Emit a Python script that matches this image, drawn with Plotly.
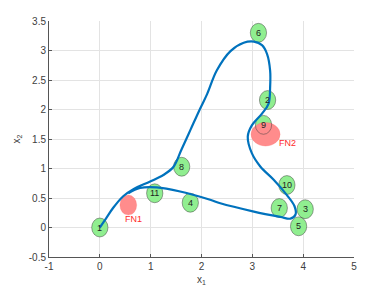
import plotly.graph_objects as go

# trajectory
path_x = [0.0, 0.12, 0.26, 0.46, 0.66, 0.99, 1.25, 1.45, 1.60, 1.78, 1.97, 2.11, 2.30, 2.57, 2.83, 3.03, 3.19, 3.29, 3.35, 3.35, 3.32, 3.19, 2.99, 2.91, 2.99, 3.16, 3.42, 3.68, 3.83, 3.85, 3.75, 3.55, 3.03, 2.37, 2.17, 1.58, 1.12, 0.79, 0.56]
path_y = [0.0, 0.15, 0.33, 0.53, 0.65, 0.78, 0.89, 1.03, 1.31, 1.65, 2.01, 2.26, 2.66, 2.99, 3.13, 3.15, 3.09, 2.94, 2.66, 2.38, 2.10, 1.93, 1.73, 1.54, 1.26, 1.03, 0.81, 0.55, 0.36, 0.22, 0.15, 0.18, 0.27, 0.41, 0.47, 0.61, 0.68, 0.67, 0.58]

# landmarks
lm_labels = ["1", "2", "3", "4", "5", "6", "7", "8", "9", "10", "11"]
lm_x = [0.0, 3.30, 4.04, 1.78, 3.91, 3.12, 3.53, 1.61, 3.22, 3.68, 1.08]
lm_y = [0.0, 2.16, 0.31, 0.42, 0.02, 3.30, 0.33, 1.03, 1.74, 0.72, 0.58]
lm_r = 0.16

# false landmarks (center, semi-axes)
fn_labels = ["FN1", "FN2"]
fn_x = [0.56, 3.26]
fn_y = [0.38, 1.58]
fn_rx = [0.165, 0.286]
fn_ry = [0.17, 0.20]
fn_lab_x = [0.67, 3.70]
fn_lab_y = [0.15, 1.44]

# axis ticks
x_ticks = [-1, 0, 1, 2, 3, 4, 5]
x_tick_text = ["-1", "0", "1", "2", "3", "4", "5"]
y_ticks = [-0.5, 0, 0.5, 1, 1.5, 2, 2.5, 3, 3.5]
y_tick_text = ["-0.5", "0", "0.5", "1", "1.5", "2", "2.5", "3", "3.5"]

fig = go.Figure()

shapes = []
for x, y in zip(lm_x, lm_y):
    shapes.append(dict(type="circle", xref="x", yref="y", layer="between",
                       x0=x - lm_r, x1=x + lm_r, y0=y - lm_r, y1=y + lm_r,
                       fillcolor="rgb(144,238,144)",
                       line=dict(width=0)))
for x, y, rx, ry in zip(fn_x, fn_y, fn_rx, fn_ry):
    shapes.append(dict(type="circle", xref="x", yref="y", layer="between",
                       x0=x - rx, x1=x + rx, y0=y - ry, y1=y + ry,
                       fillcolor="rgb(255,140,140)",
                       line=dict(color="rgba(255,100,100,0.5)", width=0.5)))
for x, y in zip(lm_x, lm_y):
    shapes.append(dict(type="circle", xref="x", yref="y", layer="between",
                       x0=x - lm_r, x1=x + lm_r, y0=y - lm_r, y1=y + lm_r,
                       fillcolor="rgba(0,0,0,0)",
                       line=dict(color="rgba(60,60,60,0.6)", width=0.8)))

fig.add_trace(go.Scatter(x=path_x, y=path_y, mode="lines",
                         line=dict(color="#0072BD", width=2.2, shape="spline", smoothing=1.0),
                         hoverinfo="skip", showlegend=False))

ann = []
for t, x, y in zip(lm_labels, lm_x, lm_y):
    ann.append(dict(x=x, y=y, xref="x", yref="y", text=t, showarrow=False,
                    font=dict(family="Liberation Sans, Arial", size=9, color="#222")))
for t, x, y in zip(fn_labels, fn_lab_x, fn_lab_y):
    ann.append(dict(x=x, y=y, xref="x", yref="y", text=t, showarrow=False,
                    font=dict(family="Liberation Sans, Arial", size=9, color="#ff2a2a")))

fig.update_layout(
    shapes=shapes,
    annotations=ann,
    width=389, height=288,
    margin=dict(l=49, r=35, t=21, b=31),
    paper_bgcolor="white", plot_bgcolor="white",
    font=dict(family="Liberation Sans, Arial", size=10, color="#404040"),
    xaxis=dict(range=[-1, 5], tickvals=x_ticks, ticktext=x_tick_text, ticks="inside", ticklen=3,
               tickcolor="#555", showline=True, linecolor="#555", linewidth=1,
               showgrid=True, gridcolor="#e3e3e3", gridwidth=1, zeroline=False,
               automargin=False,
               title=dict(text="x<sub>1</sub>", standoff=4, font=dict(size=10))),
    yaxis=dict(range=[-0.5, 3.5], tickvals=y_ticks, ticktext=y_tick_text,
               ticks="inside", ticklen=3,
               tickcolor="#555", showline=True, linecolor="#555", linewidth=1,
               showgrid=True, gridcolor="#e3e3e3", gridwidth=1, zeroline=False,
               automargin=False,
               title=dict(text="x<sub>2</sub>", standoff=6, font=dict(size=10))),
)

fig.write_html("out.html", config={"displayModeBar": False},
               post_script="document.body.style.margin='0px';document.body.style.overflow='hidden';")
